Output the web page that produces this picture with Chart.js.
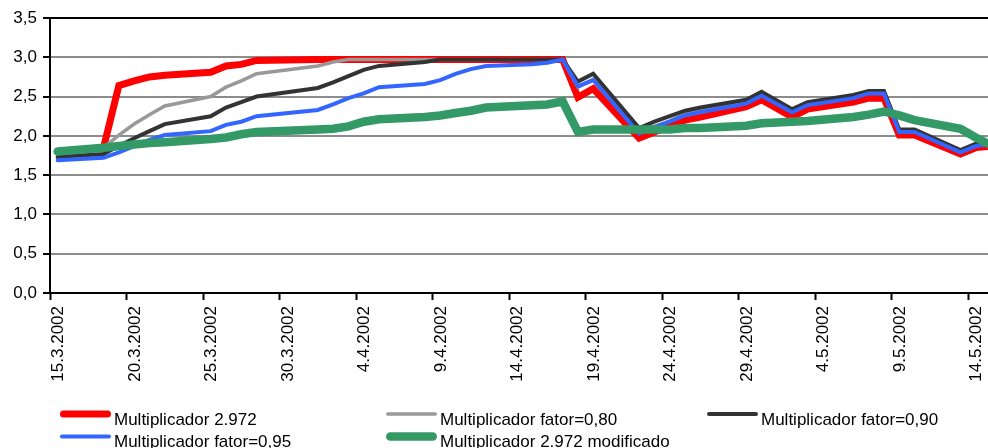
<!DOCTYPE html>
<html>
<head>
<meta charset="utf-8">
<script src="https://cdn.jsdelivr.net/npm/chart.js@4/dist/chart.umd.min.js"></script>
<style>
  html, body { margin: 0; padding: 0; background: #fff; overflow: hidden; }
  #wrap { width: 988px; height: 448px; position: relative; }
</style>
</head>
<body>
<div id="wrap"><canvas id="c" width="988" height="448"></canvas></div>
<script>
// Trading days (15.3.2002 - 15.5.2002)
const startDate = '15.3.2002';
const dates = [
  '15.3.2002', '18.3.2002', '19.3.2002', '20.3.2002', '21.3.2002', '22.3.2002',
  '25.3.2002', '26.3.2002', '27.3.2002', '28.3.2002',
  '1.4.2002', '2.4.2002', '3.4.2002', '4.4.2002', '5.4.2002',
  '8.4.2002', '9.4.2002', '10.4.2002', '11.4.2002', '12.4.2002',
  '15.4.2002', '16.4.2002', '17.4.2002', '18.4.2002', '19.4.2002',
  '22.4.2002', '23.4.2002', '24.4.2002', '25.4.2002', '26.4.2002',
  '29.4.2002', '30.4.2002', '2.5.2002', '3.5.2002',
  '6.5.2002', '7.5.2002', '8.5.2002', '9.5.2002', '10.5.2002',
  '13.5.2002', '14.5.2002', '15.5.2002'
];

const mult2972 = [
  1.80, 1.85, 2.64, 2.70, 2.75, 2.77,
  2.81, 2.89, 2.91, 2.96,
  2.972, 2.972, 2.972, 2.972, 2.972,
  2.972, 2.972, 2.972, 2.972, 2.972,
  2.972, 2.972, 2.972, 2.49, 2.60,
  1.97, 2.05, 2.13, 2.20, 2.24,
  2.37, 2.46, 2.24, 2.34,
  2.43, 2.48, 2.48, 2.01, 2.01,
  1.77, 1.85, 1.87
];

const fator080 = [
  1.78, 1.85, 2.01, 2.15, 2.27, 2.38,
  2.50, 2.62, 2.70, 2.79,
  2.89, 2.94, 2.972, 2.972, 2.972,
  2.972, 2.972, 2.972, 2.972, 2.972,
  2.972, 2.972, 2.972, 2.62, 2.72,
  2.05, 2.12, 2.19, 2.28, 2.32,
  2.43, 2.53, 2.31, 2.40,
  2.50, 2.55, 2.55, 2.06, 2.06,
  1.80, 1.88, 1.90
];

const fator090 = [
  1.73, 1.77, 1.87, 1.97, 2.06, 2.15,
  2.25, 2.36, 2.43, 2.50,
  2.61, 2.68, 2.76, 2.84, 2.89,
  2.94, 2.972, 2.972, 2.972, 2.972,
  2.972, 2.972, 2.972, 2.69, 2.79,
  2.10, 2.18, 2.25, 2.32, 2.36,
  2.46, 2.56, 2.34, 2.43,
  2.52, 2.57, 2.57, 2.08, 2.08,
  1.82, 1.90, 1.92
];

const fator095 = [
  1.69, 1.72, 1.79, 1.87, 1.95, 2.01,
  2.06, 2.14, 2.18, 2.25,
  2.33, 2.40, 2.48, 2.54, 2.62,
  2.66, 2.71, 2.79, 2.85, 2.89,
  2.91, 2.93, 2.972, 2.63, 2.71,
  2.03, 2.11, 2.18, 2.26, 2.30,
  2.41, 2.51, 2.30, 2.39,
  2.48, 2.54, 2.54, 2.05, 2.05,
  1.79, 1.87, 1.89
];

const mult2972Mod = [
  1.80, 1.85, 1.87, 1.89, 1.91, 1.92,
  1.96, 1.98, 2.02, 2.05,
  2.08, 2.09, 2.12, 2.18, 2.21,
  2.24, 2.26, 2.29, 2.32, 2.36,
  2.39, 2.40, 2.44, 2.05, 2.08,
  2.08, 2.08, 2.08, 2.10, 2.10,
  2.13, 2.16, 2.18, 2.19,
  2.24, 2.27, 2.31, 2.26, 2.20,
  2.09, 1.98, 1.88
];

const seriesNames = [
  'Multiplicador 2.972',
  'Multiplicador fator=0,80',
  'Multiplicador fator=0,90',
  'Multiplicador fator=0,95',
  'Multiplicador 2.972 modificado'
];

const xTickLabels = [
  '15.3.2002', '20.3.2002', '25.3.2002', '30.3.2002', '4.4.2002', '9.4.2002', '14.4.2002',
  '19.4.2002', '24.4.2002', '29.4.2002', '4.5.2002', '9.5.2002', '14.5.2002'
];
const yTickLabels = ['0,0', '0,5', '1,0', '1,5', '2,0', '2,5', '3,0', '3,5'];

// Day index of each date on a continuous calendar axis; points sit in the middle of their day slot
const DAY_MS = 86400000;
function parseDay(s) {
  const [d, m, y] = s.split('.').map(Number);
  return Date.UTC(y, m - 1, d);
}
const origin = parseDay(startDate);
const xs = dates.map(s => (parseDay(s) - origin) / DAY_MS + 0.5);
const toPoints = arr => arr.map((v, i) => ({ x: xs[i], y: v }));

const FONT = '"Liberation Sans", Arial, Helvetica, sans-serif';
const FONT_SIZE = 17;
const X_MAX = 61.3;                 // visible calendar span in days
const PLOT_LEFT = 50;
const DAY_PX = (988 - PLOT_LEFT) / X_MAX;

const styles = [
  { color: '#ff0000', width: 7,   order: 5 },
  { color: '#999999', width: 3.5, order: 4 },
  { color: '#333333', width: 4,   order: 3 },
  { color: '#3366ff', width: 4,   order: 2 },
  { color: '#339966', width: 8.5, order: 1 }
];
const seriesData = [mult2972, fator080, fator090, fator095, mult2972Mod];

const datasets = seriesData.map((arr, i) => ({
  label: seriesNames[i],
  data: toPoints(arr),
  borderColor: styles[i].color,
  backgroundColor: styles[i].color,
  borderWidth: styles[i].width,
  order: styles[i].order,
  pointRadius: 0,
  pointHoverRadius: 0,
  tension: 0,
  fill: false,
  borderCapStyle: 'round',
  borderJoinStyle: 'miter'
}));

// Legend laid out as a three-column grid under the axis
const gridLegend = {
  id: 'gridLegend',
  afterDraw(chart, args, opts) {
    const ctx = chart.ctx;
    ctx.save();
    ctx.font = FONT_SIZE + 'px ' + FONT;
    ctx.fillStyle = '#000';
    ctx.textBaseline = 'alphabetic';
    ctx.textAlign = 'left';
    chart.data.datasets.forEach((ds, i) => {
      const col = i % 3, row = Math.floor(i / 3);
      const x0 = opts.columns[col];
      const ly = opts.lineY[row];
      ctx.beginPath();
      ctx.lineCap = 'round';
      ctx.strokeStyle = ds.borderColor;
      ctx.lineWidth = ds.borderWidth;
      ctx.moveTo(x0 + ds.borderWidth / 2, ly);
      ctx.lineTo(x0 + opts.sample - ds.borderWidth / 2, ly);
      ctx.stroke();
      ctx.fillText(ds.label, x0 + opts.sample + 3, opts.textY[row]);
    });
    ctx.restore();
  }
};

new Chart(document.getElementById('c'), {
  type: 'line',
  data: { datasets },
  plugins: [gridLegend],
  options: {
    responsive: false,
    animation: false,
    devicePixelRatio: 1,
    events: [],
    layout: { padding: { top: 18, right: 0, left: 0, bottom: 0 } },
    plugins: {
      legend: { display: false },
      tooltip: { enabled: false },
      title: { display: false },
      gridLegend: {
        columns: [60, 386, 707],
        sample: 51,
        lineY: [414, 436.5],
        textY: [425, 447]
      }
    },
    scales: {
      x: {
        type: 'linear',
        position: 'bottom',
        min: 0,
        max: X_MAX,
        afterFit(scale) {
          scale.height = 155;
          scale.paddingLeft = 0;
          scale.paddingRight = 0;
        },
        ticks: {
          stepSize: 5,
          includeBounds: false,
          autoSkip: false,
          minRotation: 90,
          maxRotation: 90,
          padding: 6,
          labelOffset: DAY_PX / 2 + 1,
          color: '#000',
          font: { family: FONT, size: FONT_SIZE },
          callback: v => xTickLabels[Math.round(v / 5)] ?? ''
        },
        grid: {
          drawOnChartArea: false,
          drawTicks: true,
          tickLength: 7,
          tickColor: '#000',
          tickWidth: 2
        },
        border: { display: true, color: '#000', width: 2 }
      },
      y: {
        min: 0,
        max: 3.5,
        afterFit(scale) { scale.width = PLOT_LEFT; },
        ticks: {
          stepSize: 0.5,
          padding: 6,
          color: '#000',
          font: { family: FONT, size: FONT_SIZE },
          callback: v => yTickLabels[Math.round(v * 2)] ?? ''
        },
        grid: {
          color: c => (c.tick && c.tick.value === 3.5) ? '#000' : '#8c8c8c',
          lineWidth: 2,
          tickLength: 7,
          tickColor: '#000',
          tickWidth: 2
        },
        border: { display: true, color: '#000', width: 2 }
      }
    }
  }
});
</script>
</body>
</html>
